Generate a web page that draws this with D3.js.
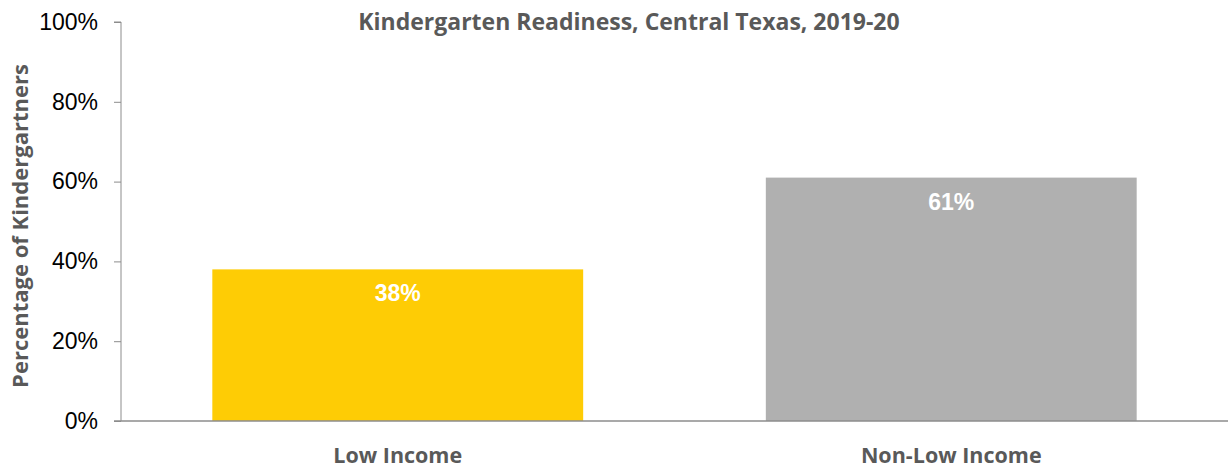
<!DOCTYPE html>
<html>
<head>
<meta charset="utf-8">
<script src="https://cdn.jsdelivr.net/npm/d3@7"></script>
<style>
  body { margin: 0; background: #fff; }
  svg { display: block; }
</style>
</head>
<body>
<svg id="chart" width="1228" height="468"></svg>
<script>
var categories = ["Low Income", "Non-Low Income"];
var values = [38, 61];
var barColors = ["#FECC05", "#B0B0B0"];
var yTicks = [0, 20, 40, 60, 80, 100];
var chartTitle = "Kindergarten Readiness, Central Texas, 2019-20";
var yTitle = "Percentage of Kindergartners";

var svg = d3.select("#chart"),
	width = 1228,
	height = 468;

var margin = {left: 121, right: 0, top: 22, bottom: 47};

var x = d3.scaleBand()
	.domain(categories)
	.range([margin.left, width - margin.right])
	.paddingInner(0.33)
	.paddingOuter(0.165);

var y = d3.scaleLinear()
	.domain([0, 100])
	.range([height - margin.bottom, margin.top]);

var labelFont = "'Open Sans', 'Noto Sans', sans-serif";
var tickFont = "'Liberation Sans', Arial, sans-serif";

// y axis
var yAxis = svg.append("g")
	.attr("transform", "translate(" + margin.left + ",0)")
	.call(d3.axisLeft(y).tickValues(yTicks).tickSize(7).tickPadding(16)
		.tickFormat(function(d){ return d + "%"; }));
yAxis.select(".domain").attr("stroke", "#8c8c8c").attr("d", "M-7," + y(100) + "H0V" + y(0));
yAxis.selectAll(".tick line").attr("stroke", "#8c8c8c");
yAxis.selectAll(".tick text")
	.attr("fill", "#000")
	.style("font-family", tickFont)
	.style("font-size", "23px");

// bars
svg.append("g").selectAll("rect")
	.data(values)
	.join("rect")
	.attr("x", function(d, i){ return x(categories[i]); })
	.attr("y", function(d){ return y(d); })
	.attr("width", x.bandwidth())
	.attr("height", function(d){ return y(0) - y(d); })
	.attr("fill", function(d, i){ return barColors[i]; });

// x baseline
svg.append("line")
	.attr("x1", margin.left - 7)
	.attr("x2", width)
	.attr("y1", y(0))
	.attr("y2", y(0))
	.attr("stroke", "#8c8c8c")
	.attr("stroke-width", 1.5);

// value labels
svg.append("g").selectAll("text")
	.data(values)
	.join("text")
	.attr("x", function(d, i){ return x(categories[i]) + x.bandwidth() / 2; })
	.attr("y", function(d){ return y(d) + 32; })
	.attr("text-anchor", "middle")
	.attr("fill", "#fff")
	.style("font-family", tickFont)
	.style("font-weight", "bold")
	.style("font-size", "23px")
	.text(function(d){ return d + "%"; });

// category labels
svg.append("g").selectAll("text")
	.data(categories)
	.join("text")
	.attr("x", function(d){ return x(d) + x.bandwidth() / 2; })
	.attr("y", 463)
	.attr("text-anchor", "middle")
	.attr("fill", "#595959")
	.style("font-family", labelFont)
	.style("font-weight", "bold")
	.style("font-size", "21.5px")
	.text(function(d){ return d; });

// title
svg.append("text")
	.attr("x", 629)
	.attr("y", 30)
	.attr("text-anchor", "middle")
	.attr("fill", "#595959")
	.style("font-family", labelFont)
	.style("font-weight", "bold")
	.style("font-size", "23px")
	.text(chartTitle);

// y title
svg.append("text")
	.attr("transform", "translate(28," + 226 + ") rotate(-90)")
	.attr("text-anchor", "middle")
	.attr("fill", "#595959")
	.style("font-family", labelFont)
	.style("font-weight", "bold")
	.style("font-size", "22px")
	.text(yTitle);
</script>
</body>
</html>
